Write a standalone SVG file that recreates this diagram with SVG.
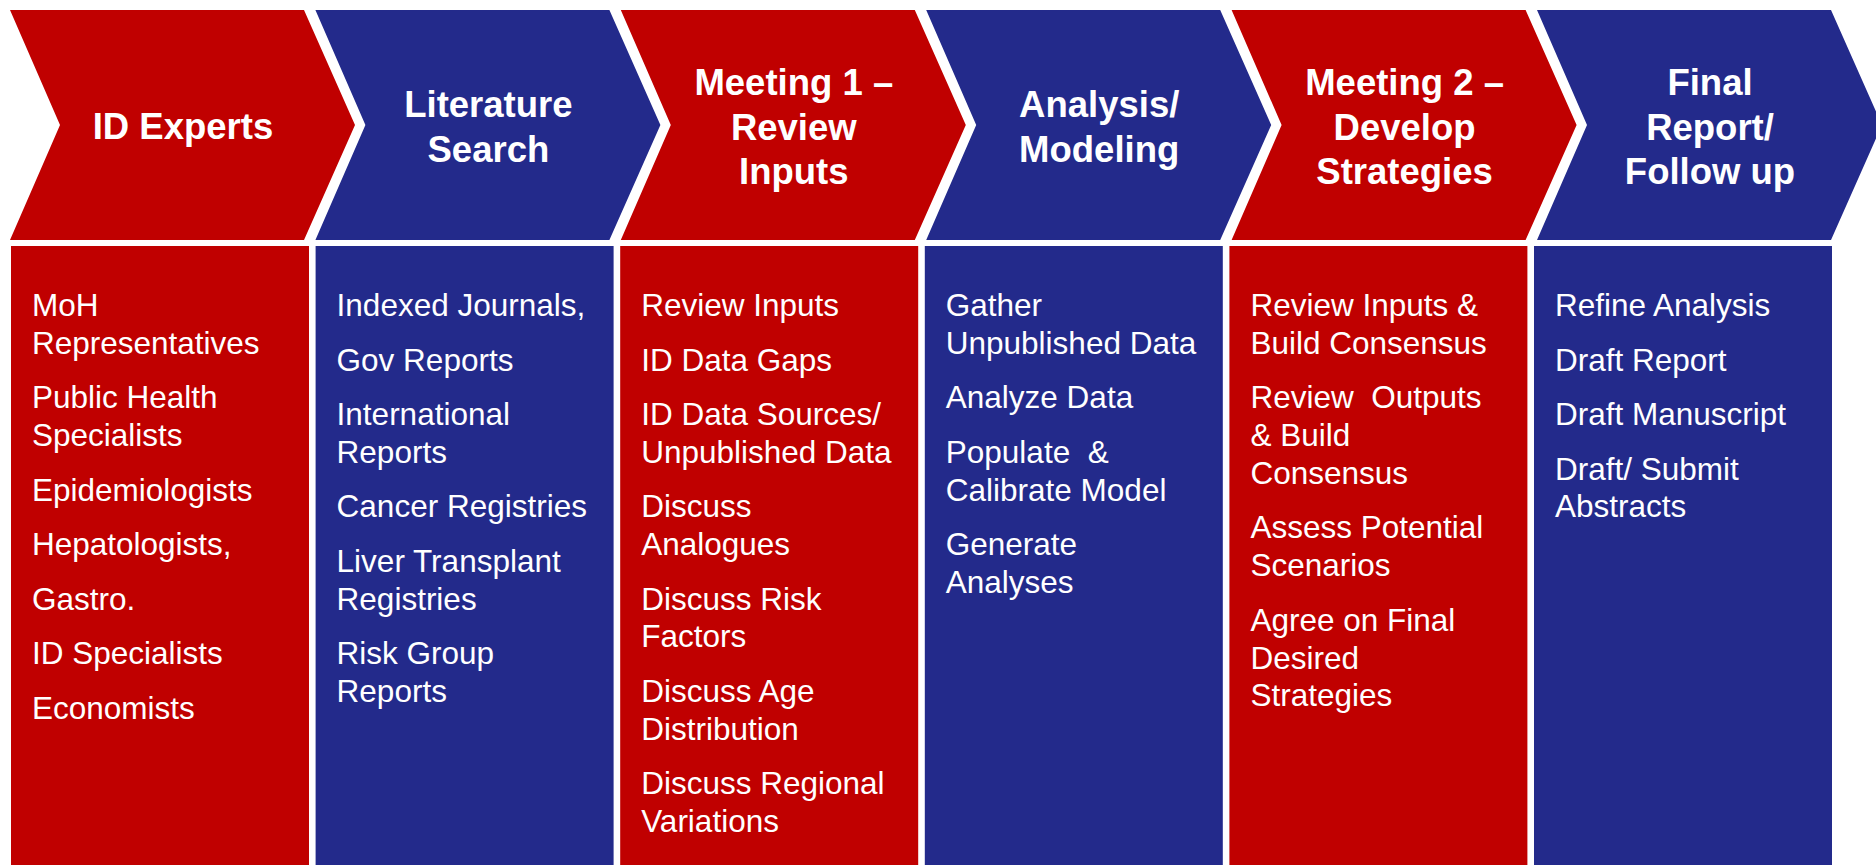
<svg xmlns="http://www.w3.org/2000/svg" width="1876" height="865" viewBox="0 0 1876 865">
<style>
.red{fill:#C00000}
.blue{fill:#232A8B}
.hd{font-family:"Liberation Sans",Arial,sans-serif;font-weight:bold;font-size:36.5px;fill:#FFFFFF;text-anchor:middle}
.bd{font-family:"Liberation Sans",Arial,sans-serif;font-size:31.5px;fill:#FFFFFF;white-space:pre}
</style>
<defs>
<polygon id="chev" points="0,10 294,10 345,125 294,240 0,240 50,125"/>
</defs>
<rect width="1876" height="865" fill="#FFFFFF"/>
<g id="connectors"></g>

<g id="step1">
<use href="#chev" x="10" class="red"/>
<rect x="11" y="246" width="298" height="619" class="red"/>
<text class="hd"><tspan x="183" y="139">ID Experts</tspan></text>
<text class="bd" xml:space="preserve"><tspan x="32" y="316">MoH</tspan><tspan x="32" y="353.8">Representatives</tspan><tspan x="32" y="408.3">Public Health</tspan><tspan x="32" y="446.1">Specialists</tspan><tspan x="32" y="500.6">Epidemiologists</tspan><tspan x="32" y="555.1">Hepatologists,</tspan><tspan x="32" y="609.6">Gastro.</tspan><tspan x="32" y="664.1">ID Specialists</tspan><tspan x="32" y="718.6">Economists</tspan></text>
</g>

<g id="step2">
<use href="#chev" x="315.4" class="blue"/>
<rect x="315.6" y="246" width="298" height="619" class="blue"/>
<text class="hd"><tspan x="488.4" y="117">Literature</tspan><tspan x="488.4" y="162">Search</tspan></text>
<text class="bd" xml:space="preserve"><tspan x="336.6" y="316">Indexed Journals,</tspan><tspan x="336.6" y="370.5">Gov Reports</tspan><tspan x="336.6" y="425">International</tspan><tspan x="336.6" y="462.8">Reports</tspan><tspan x="336.6" y="517.3">Cancer Registries</tspan><tspan x="336.6" y="571.8">Liver Transplant</tspan><tspan x="336.6" y="609.6">Registries</tspan><tspan x="336.6" y="664.1">Risk Group</tspan><tspan x="336.6" y="701.9">Reports</tspan></text>
</g>

<g id="step3">
<use href="#chev" x="620.8" class="red"/>
<rect x="620.2" y="246" width="298" height="619" class="red"/>
<text class="hd"><tspan x="793.8" y="95">Meeting 1 –</tspan><tspan x="793.8" y="139.5">Review</tspan><tspan x="793.8" y="184">Inputs</tspan></text>
<text class="bd" xml:space="preserve"><tspan x="641.2" y="316">Review Inputs</tspan><tspan x="641.2" y="370.5">ID Data Gaps</tspan><tspan x="641.2" y="425">ID Data Sources/</tspan><tspan x="641.2" y="462.8">Unpublished Data</tspan><tspan x="641.2" y="517.3">Discuss</tspan><tspan x="641.2" y="555.1">Analogues</tspan><tspan x="641.2" y="609.6">Discuss Risk</tspan><tspan x="641.2" y="647.4">Factors</tspan><tspan x="641.2" y="701.9">Discuss Age</tspan><tspan x="641.2" y="739.7">Distribution</tspan><tspan x="641.2" y="794.2">Discuss Regional</tspan><tspan x="641.2" y="832">Variations</tspan></text>
</g>

<g id="step4">
<use href="#chev" x="926.2" class="blue"/>
<rect x="924.8" y="246" width="298" height="619" class="blue"/>
<text class="hd"><tspan x="1099.2" y="117">Analysis/</tspan><tspan x="1099.2" y="162">Modeling</tspan></text>
<text class="bd" xml:space="preserve"><tspan x="945.8" y="316">Gather</tspan><tspan x="945.8" y="353.8">Unpublished Data</tspan><tspan x="945.8" y="408.3">Analyze Data</tspan><tspan x="945.8" y="462.8">Populate  &amp;</tspan><tspan x="945.8" y="500.6">Calibrate Model</tspan><tspan x="945.8" y="555.1">Generate</tspan><tspan x="945.8" y="592.9">Analyses</tspan></text>
</g>

<g id="step5">
<use href="#chev" x="1231.6" class="red"/>
<rect x="1229.4" y="246" width="298" height="619" class="red"/>
<text class="hd"><tspan x="1404.6" y="95">Meeting 2 –</tspan><tspan x="1404.6" y="139.5">Develop</tspan><tspan x="1404.6" y="184">Strategies</tspan></text>
<text class="bd" xml:space="preserve"><tspan x="1250.4" y="316">Review Inputs &amp;</tspan><tspan x="1250.4" y="353.8">Build Consensus</tspan><tspan x="1250.4" y="408.3">Review  Outputs</tspan><tspan x="1250.4" y="446.1">&amp; Build</tspan><tspan x="1250.4" y="483.9">Consensus</tspan><tspan x="1250.4" y="538.4">Assess Potential</tspan><tspan x="1250.4" y="576.2">Scenarios</tspan><tspan x="1250.4" y="630.7">Agree on Final</tspan><tspan x="1250.4" y="668.5">Desired</tspan><tspan x="1250.4" y="706.3">Strategies</tspan></text>
</g>

<g id="step6">
<use href="#chev" x="1537" class="blue"/>
<rect x="1534" y="246" width="298" height="619" class="blue"/>
<text class="hd"><tspan x="1710" y="95">Final</tspan><tspan x="1710" y="139.5">Report/</tspan><tspan x="1710" y="184">Follow up</tspan></text>
<text class="bd" xml:space="preserve"><tspan x="1555" y="316">Refine Analysis</tspan><tspan x="1555" y="370.5">Draft Report</tspan><tspan x="1555" y="425">Draft Manuscript</tspan><tspan x="1555" y="479.5">Draft/ Submit</tspan><tspan x="1555" y="517.3">Abstracts</tspan></text>
</g>
</svg>
